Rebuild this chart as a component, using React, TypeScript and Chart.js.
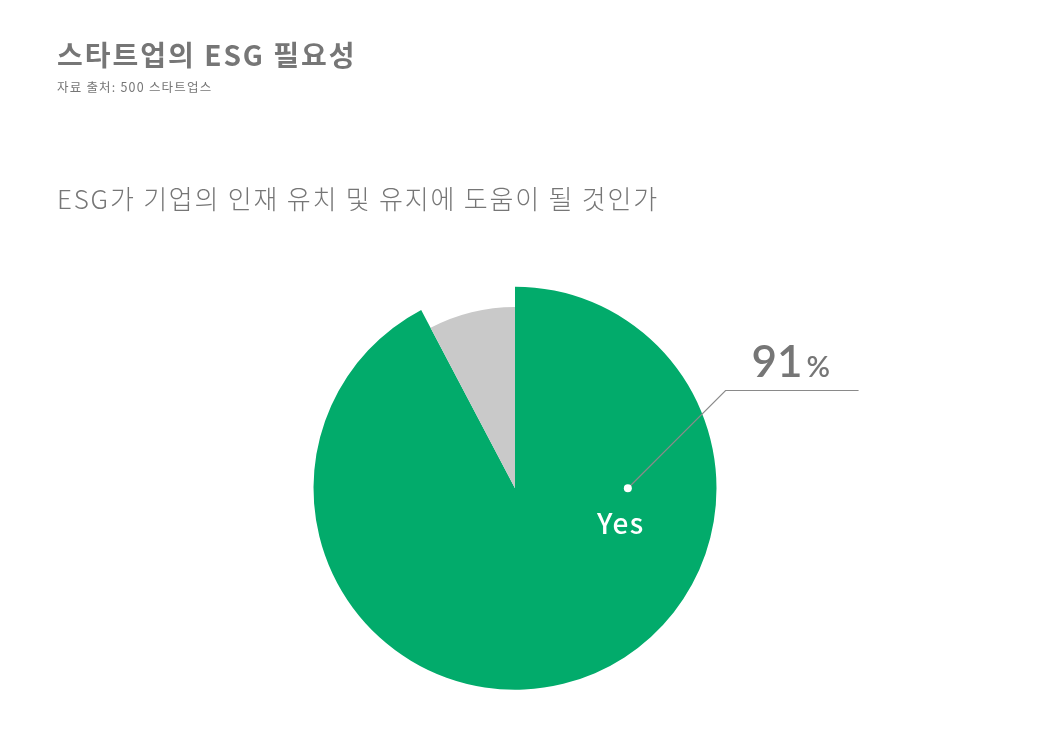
import { useEffect, useRef } from 'react';
import { Chart, registerables } from 'chart.js';

Chart.register(...registerables);

// data
const labels = ['Yes', 'No'];
const values = [91, 7.6];
const colors = ['#02AB6B', '#C9C9C9'];
const shownPercent = '91';

const TEXT_GRAY = '#767676';
const KR_FONT = '"Noto Sans CJK KR", "Noto Sans", sans-serif';

// shrink the grey "No" slice like in the reference
const smallSlicePlugin = {
  id: 'smallSlice',
  afterDatasetsUpdate(chart: Chart) {
    const meta = chart.getDatasetMeta(0);
    const arc: any = meta.data[1];
    if (arc) arc.outerRadius = arc.outerRadius * 0.9;
  },
};

// dot, leader line, "Yes" and "91%" call-out
const calloutPlugin = {
  id: 'callout',
  afterDatasetsDraw(chart: Chart) {
    const arc: any = chart.getDatasetMeta(0).data[0];
    if (!arc) return;
    const ctx = chart.ctx;
    const r = arc.outerRadius;
    const dotX = arc.x + r * 0.56;
    const dotY = arc.y;
    const elbowX = arc.x + r * 1.045;
    const elbowY = arc.y - r * 0.485;
    const endX = elbowX + 133;

    ctx.save();
    ctx.strokeStyle = '#8a8a8a';
    ctx.lineWidth = 1.2;
    ctx.beginPath();
    ctx.moveTo(dotX, dotY);
    ctx.lineTo(elbowX, elbowY);
    ctx.lineTo(endX, elbowY);
    ctx.stroke();

    ctx.fillStyle = '#ffffff';
    ctx.beginPath();
    ctx.arc(dotX, dotY, 4, 0, Math.PI * 2);
    ctx.fill();

    ctx.font = '500 28px ' + KR_FONT;
    ctx.textAlign = 'center';
    ctx.textBaseline = 'alphabetic';
    (ctx as any).letterSpacing = '1.5px';
    ctx.fillText(labels[0], dotX - 7, dotY + 46);
    (ctx as any).letterSpacing = '0px';

    ctx.fillStyle = TEXT_GRAY;
    ctx.textAlign = 'left';
    ctx.font = '600 44px Lato, "Noto Sans", sans-serif';
    const numX = elbowX + 26;
    const numY = elbowY - 14;
    ctx.fillText(shownPercent, numX, numY);
    const w = ctx.measureText(shownPercent).width;
    ctx.font = '600 29px Lato, "Noto Sans", sans-serif';
    ctx.fillText('%', numX + w + 4, numY);
    ctx.restore();
  },
};

function PieChart() {
  const canvasRef = useRef<HTMLCanvasElement>(null);
  const chartRef = useRef<Chart | null>(null);

  useEffect(() => {
    if (!canvasRef.current) return;
    if (chartRef.current) {
      chartRef.current.destroy();
      chartRef.current = null;
    }

    chartRef.current = new Chart(canvasRef.current, {
      type: 'pie',
      data: {
        labels,
        datasets: [
          {
            data: values,
            backgroundColor: colors,
            borderWidth: 0,
            hoverOffset: 0,
          },
        ],
      },
      options: {
        animation: false,
        responsive: true,
        maintainAspectRatio: false,
        layout: {
          padding: { top: 286.5, bottom: 47, left: 313.5, right: 343.5 },
        },
        plugins: {
          legend: { display: false },
          tooltip: { enabled: false },
        },
      },
      plugins: [smallSlicePlugin, calloutPlugin],
    });

    return () => {
      chartRef.current?.destroy();
      chartRef.current = null;
    };
  }, []);

  return (
    <div style={{ position: 'absolute', left: 0, top: 0, width: 1060, height: 737 }}>
      <canvas ref={canvasRef} />
    </div>
  );
}

export default function App() {
  return (
    <div
      style={{
        position: 'fixed',
        left: 0,
        top: 0,
        width: 1060,
        height: 737,
        background: '#ffffff',
        fontFamily: KR_FONT,
        color: TEXT_GRAY,
        overflow: 'hidden',
      }}
    >
      <PieChart />
      <div
        style={{
          position: 'absolute',
          left: 57,
          top: 39,
          fontSize: 28,
          fontWeight: 700,
          lineHeight: '30px',
          letterSpacing: 2,
          whiteSpace: 'nowrap',
        }}
      >
        스타트업의 ESG 필요성
      </div>
      <div
        style={{
          position: 'absolute',
          left: 57,
          top: 79,
          fontSize: 12.5,
          lineHeight: '16px',
          letterSpacing: 1.2,
          whiteSpace: 'nowrap',
        }}
      >
        자료 출처: 500 스타트업스
      </div>
      <div
        style={{
          position: 'absolute',
          left: 57,
          top: 183,
          fontSize: 26,
          fontWeight: 300,
          lineHeight: '30px',
          letterSpacing: 1.8,
          whiteSpace: 'nowrap',
        }}
      >
        ESG가 기업의 인재 유치 및 유지에 도움이 될 것인가
      </div>
    </div>
  );
}
